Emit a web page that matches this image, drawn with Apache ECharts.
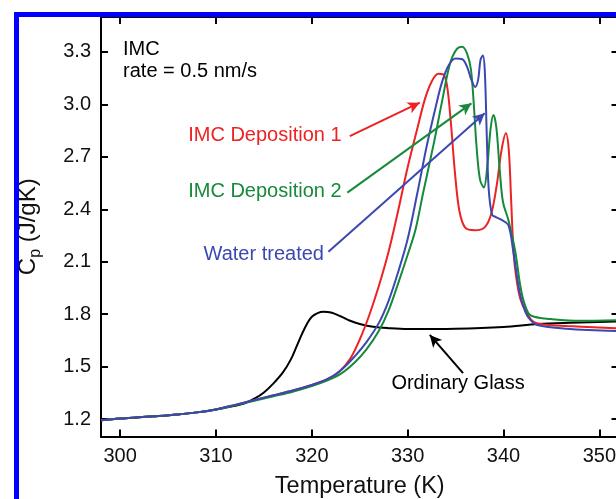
<!DOCTYPE html>
<html>
<head>
<meta charset="utf-8">
<script src="https://cdn.jsdelivr.net/npm/echarts@6/dist/echarts.min.js"></script>
<style>
html,body{margin:0;padding:0;background:#fff;}
#chart{width:616px;height:499px;}
</style>
</head>
<body>
<div id="chart"></div>
<script>
// ---- Data (Temperature K, Cp J/gK) ----
const xTicks = [300, 310, 320, 330, 340, 350];
const yTicks = [1.2, 1.5, 1.8, 2.1, 2.4, 2.7, 3.0, 3.3];

const ordinaryGlass = [
  [298,1.193],[300,1.203],[302,1.21],[304,1.217],[306,1.226],[308,1.238],[310,1.255],
  [312,1.276],[313,1.29],[314,1.316],[315,1.352],[316,1.404],[317,1.468],[317.8,1.54],
  [318.4,1.614],[319,1.69],[319.5,1.745],[320,1.785],[320.6,1.806],[321.2,1.814],
  [322,1.809],[323,1.788],[324,1.762],[325,1.744],[326.4,1.728],[328,1.72],[330,1.715],
  [335,1.717],[340,1.727],[343.6,1.744],[347,1.751],[352,1.758]
];
const deposition1 = [
  [298,1.193],[300,1.203],[302,1.21],[304,1.217],[306,1.226],[308,1.238],[310,1.255],
  [312,1.281],[314,1.309],[316,1.336],[318,1.363],[320,1.395],[321.5,1.425],
  [322.8,1.468],[324,1.545],[325,1.655],[326,1.795],[327,1.962],[328,2.155],
  [329,2.39],[330,2.64],[331,2.86],[331.8,3.03],[332.5,3.13],[333.2,3.175],
  [333.7,3.172],[334.1,3.11],[334.5,2.9],[334.95,2.6],[335.4,2.39],[336.0,2.295],
  [337.0,2.28],[338.0,2.295],[338.7,2.37],[339.3,2.54],[339.8,2.74],[340.25,2.835],
  [340.55,2.74],[340.8,2.45],[341.1,2.12],[341.6,1.92],[342.0,1.85],
  [342.5,1.80],[343.1,1.757],[344,1.742],[346.6,1.732],[352,1.718]
];
const deposition2 = [
  [298,1.193],[300,1.203],[302,1.21],[304,1.217],[306,1.226],[308,1.238],[310,1.254],
  [312,1.278],[314,1.304],[316,1.33],[318,1.356],[320,1.388],[321.5,1.418],
  [323,1.458],[324.5,1.525],[325.7,1.598],[327,1.705],[328,1.82],[329,1.975],
  [330,2.14],[330.8,2.28],[331.6,2.49],[332.7,2.77],[333.6,3.02],[334.4,3.23],
  [335.1,3.315],[335.7,3.33],[336.2,3.29],[336.6,3.2],[336.9,3.0],[337.2,2.75],
  [337.55,2.57],[337.95,2.525],[338.3,2.64],[338.65,2.86],[338.95,2.94],[339.25,2.87],
  [339.6,2.63],[339.95,2.44],[340.5,2.34],[341.2,2.167],[341.9,1.92],[342.6,1.805],
  [343.2,1.785],[344.9,1.772],[348,1.762],[352,1.766]
];
const waterTreated = [
  [298,1.193],[300,1.203],[302,1.21],[304,1.217],[306,1.226],[308,1.238],[310,1.255],
  [312,1.281],[314,1.309],[316,1.336],[318,1.363],[320,1.395],[321.5,1.425],
  [323,1.478],[324.5,1.56],[325.7,1.64],[327,1.75],[328,1.875],[329,2.04],
  [330,2.23],[331,2.49],[332,2.765],[332.9,2.98],[333.6,3.13],[334.3,3.225],
  [335.0,3.262],[335.7,3.258],[336.2,3.215],[336.65,3.14],[337.05,3.10],[337.35,3.14],
  [337.6,3.255],[337.85,3.28],[338.05,3.19],[338.25,2.83],[338.45,2.52],[338.8,2.37],
  [339.2,2.355],[339.8,2.339],[340.5,2.31],[341.0,2.167],[341.7,1.92],[342.3,1.81],
  [342.8,1.767],[343.5,1.738],[346.6,1.717],[352,1.703]
];

// annotation texts [x, y, text]
const labelIMC = [300.3, 3.317, 'IMC'];
const labelRate = [300.3, 3.186, 'rate = 0.5 nm/s'];
const labelDep1 = [307.1, 2.825, 'IMC Deposition 1'];
const labelDep2 = [307.1, 2.499, 'IMC Deposition 2'];
const labelWater = [308.7, 2.144, 'Water treated'];
const labelGlass = [328.3, 1.406, 'Ordinary Glass'];

// arrows [fromX, fromY, toX, toY]
const arrowDep1 = [323.96, 2.819, 331.26, 3.010];
const arrowDep2 = [323.71, 2.495, 336.65, 3.006];
const arrowWater = [321.73, 2.157, 338.04, 2.949];
const arrowGlass = [335.78, 1.463, 332.31, 1.681];

const RED = '#ee2222', GREEN = '#168a3a', BLUE = '#3a48b0', BLACK = '#000000';
const FONT = 'Liberation Sans, Arial, Helvetica, sans-serif';

function textItem(l, color) {
  return {
    value: [l[0], l[1]],
    label: { show: true, formatter: l[2], color: color, opacity: 1, fontSize: 20, fontFamily: FONT,
      textBorderWidth: 0, textShadowBlur: 0,
      position: [0, 0], align: 'left', verticalAlign: 'middle' }
  };
}
function arrowItem(a, color) {
  return [
    { coord: [a[0], a[1]], symbol: 'none', lineStyle: { color: color, width: 2, type: 'solid', opacity: 1 } },
    { coord: [a[2], a[3]], symbol: 'arrow', symbolSize: [9, 12] }
  ];
}

const axisCommonX = {
  type: 'value', min: 298, max: 352,
  axisLine: { show: true, onZero: false, lineStyle: { color: '#000', width: 2 } },
  axisTick: { show: true, inside: true, length: 7, customValues: xTicks, lineStyle: { color: '#000', width: 2 } },
  splitLine: { show: false }
};
const axisCommonY = {
  type: 'value', min: 1.1, max: 3.5,
  axisLine: { show: true, onZero: false, lineStyle: { color: '#000', width: 2 } },
  axisTick: { show: true, inside: true, length: 7, customValues: yTicks, lineStyle: { color: '#000', width: 2 } },
  splitLine: { show: false }
};

const chart = echarts.init(document.getElementById('chart'), null, { renderer: 'canvas' });
const lineBase = { type: 'line', showSymbol: false, symbol: 'none', smooth: 0.35,
  animation: false, z: 3 };

chart.setOption({
  backgroundColor: '#ffffff',
  animation: false,
  graphic: [{
    type: 'rect', left: 14, top: 12, silent: true, z: 100,
    shape: { x: 0, y: 0, width: 700, height: 600 },
    style: { fill: 'none', stroke: '#0000ff', lineWidth: 5 }
  }],
  grid: { left: 101, right: -2.5, top: 17, bottom: 62.5, containLabel: false, outerBoundsMode: 'none' },
  xAxis: [
    Object.assign({}, axisCommonX, {
      position: 'bottom',
      name: 'Temperature (K)', nameLocation: 'middle', nameGap: 38,
      nameTextStyle: { fontSize: 23.5, color: '#111', fontFamily: FONT },
      axisLabel: { show: true, customValues: xTicks, margin: 10, fontSize: 20, color: '#111', fontFamily: FONT }
    }),
    Object.assign({}, axisCommonX, { position: 'top', axisLabel: { show: false } })
  ],
  yAxis: [
    Object.assign({}, axisCommonY, {
      position: 'left',
      name: '{c|C}{p|p}{c| (J/gK)}', nameLocation: 'middle', nameGap: 57, nameRotate: 90,
      nameTextStyle: {
        color: '#111', fontFamily: FONT,
        rich: {
          c: { fontSize: 24, lineHeight: 32, color: '#111', fontFamily: FONT },
          p: { fontSize: 16, lineHeight: 16, verticalAlign: 'bottom', color: '#111', fontFamily: FONT }
        }
      },
      axisLabel: { show: true, customValues: yTicks, margin: 10, fontSize: 20, color: '#111', fontFamily: FONT,
        formatter: v => Number(v).toFixed(1) }
    }),
    Object.assign({}, axisCommonY, { position: 'right', axisLabel: { show: false } })
  ],
  series: [
    Object.assign({}, lineBase, { name: 'Ordinary Glass', data: ordinaryGlass, lineStyle: { color: BLACK, width: 2 }, itemStyle: { color: BLACK } }),
    Object.assign({}, lineBase, { name: 'IMC Deposition 1', data: deposition1, lineStyle: { color: RED, width: 2 }, itemStyle: { color: RED } }),
    Object.assign({}, lineBase, { name: 'IMC Deposition 2', data: deposition2, lineStyle: { color: GREEN, width: 2 }, itemStyle: { color: GREEN } }),
    Object.assign({}, lineBase, { name: 'Water treated', data: waterTreated, lineStyle: { color: BLUE, width: 2 }, itemStyle: { color: BLUE } }),
    {
      type: 'scatter', name: 'annotations', symbolSize: 0, silent: true, animation: false, z: 5,
      itemStyle: { color: '#000', opacity: 1 },
      data: [
        textItem(labelIMC, '#000'), textItem(labelRate, '#000'),
        textItem(labelDep1, RED), textItem(labelDep2, GREEN),
        textItem(labelWater, BLUE), textItem(labelGlass, '#000')
      ],
      markLine: {
        silent: true, animation: false, symbolSize: [9, 12],
        label: { show: false },
        emphasis: { disabled: true },
        data: [
          arrowItem(arrowDep1, RED), arrowItem(arrowDep2, GREEN),
          arrowItem(arrowWater, BLUE), arrowItem(arrowGlass, BLACK)
        ]
      }
    }
  ]
});
</script>
</body>
</html>
